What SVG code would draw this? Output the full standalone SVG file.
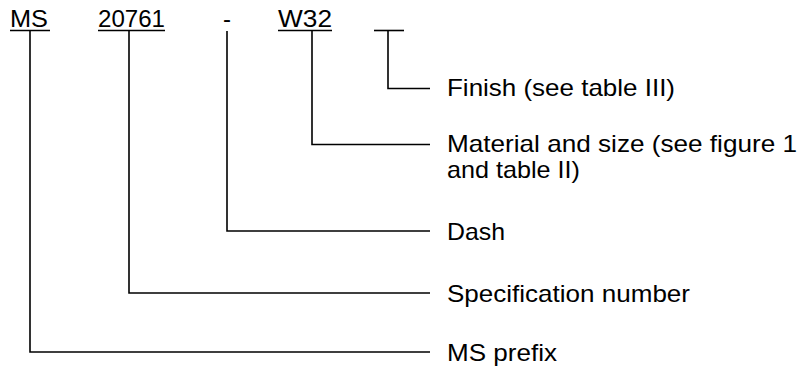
<svg xmlns="http://www.w3.org/2000/svg" width="801" height="369" viewBox="0 0 801 369">
<style>
text{font-family:"Liberation Sans",Arial,sans-serif;font-size:24px;fill:#000}
.ln{stroke:#000;stroke-width:1.6;fill:none}
</style>
<rect width="801" height="369" fill="#fff"/>
<g id="code">
<g id="ms"><text x="10" y="27" textLength="38" lengthAdjust="spacingAndGlyphs">MS</text><line class="ln" x1="10" y1="30.5" x2="50" y2="30.5"/></g>
<g id="spec"><text x="98" y="27" textLength="67" lengthAdjust="spacingAndGlyphs">20761</text><line class="ln" x1="98" y1="30.5" x2="165" y2="30.5"/></g>
<g id="dash"><text x="223" y="27">-</text></g>
<g id="w32"><text x="278" y="27" textLength="54" lengthAdjust="spacingAndGlyphs">W32</text><line class="ln" x1="278" y1="30.5" x2="332" y2="30.5"/></g>
<g id="finish"><line class="ln" x1="374" y1="30.5" x2="404" y2="30.5"/></g>
</g>
<g id="connectors">
<polyline class="ln" points="388,30.5 388,88.5 430,88.5"/>
<polyline class="ln" points="312,30.5 312,144.5 430,144.5"/>
<polyline class="ln" points="227,31 227,231 430,231"/>
<polyline class="ln" points="129,30.5 129,293 430,293"/>
<polyline class="ln" points="30,30.5 30,352 430,352"/>
</g>
<g id="labels">
<text x="447" y="96" textLength="228" lengthAdjust="spacingAndGlyphs">Finish (see table III)</text>
<text x="447" y="152" textLength="350" lengthAdjust="spacingAndGlyphs">Material and size (see figure 1</text>
<text x="447" y="178" textLength="133" lengthAdjust="spacingAndGlyphs">and table II)</text>
<text x="447" y="240" textLength="58" lengthAdjust="spacingAndGlyphs">Dash</text>
<text x="447" y="302" textLength="243" lengthAdjust="spacingAndGlyphs">Specification number</text>
<text x="447" y="361" textLength="110" lengthAdjust="spacingAndGlyphs">MS prefix</text>
</g>
</svg>
